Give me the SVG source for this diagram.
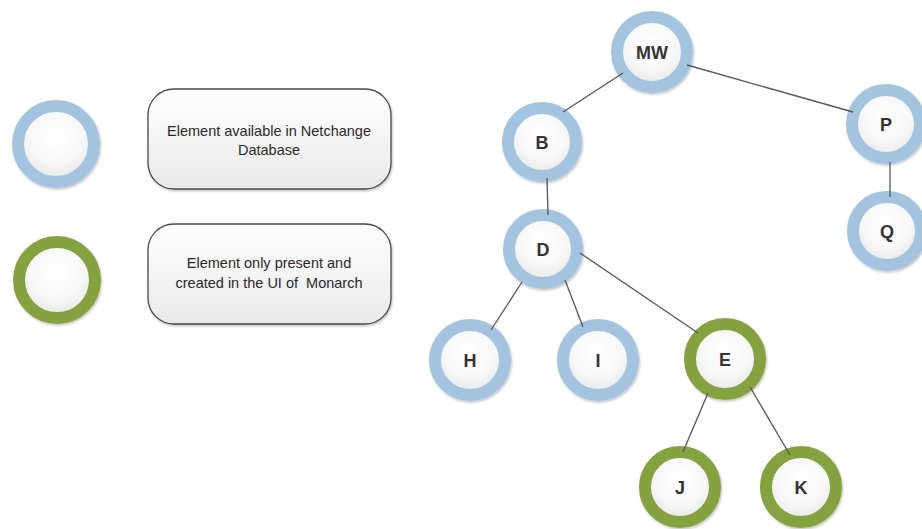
<svg xmlns="http://www.w3.org/2000/svg" width="922" height="529" viewBox="0 0 922 529">
<defs>
<radialGradient id="fillG" cx="50%" cy="40%" r="60%">
<stop offset="0" stop-color="#ffffff"/>
<stop offset="0.6" stop-color="#f7f7f7"/>
<stop offset="1" stop-color="#e4e4e4"/>
</radialGradient>
<linearGradient id="boxG" x1="0" y1="0" x2="0" y2="1">
<stop offset="0" stop-color="#ffffff"/>
<stop offset="1" stop-color="#e9e9e9"/>
</linearGradient>
<filter id="sh" x="-20%" y="-20%" width="140%" height="140%">
<feDropShadow dx="1" dy="1.5" stdDeviation="1.2" flood-color="#000" flood-opacity="0.25"/>
</filter>
</defs>
<style>
.blue{fill:url(#fillG);stroke:#a3c3df;stroke-width:12}
.green{fill:url(#fillG);stroke:#86a23f;stroke-width:12}
.lbl{font-family:"Liberation Sans",Arial,sans-serif;font-size:18px;fill:#333;text-anchor:middle;font-weight:bold}
.box{fill:url(#boxG);stroke:#4a4a4a;stroke-width:1.3}
.btxt{font-family:"Liberation Sans",Arial,sans-serif;font-size:14.5px;fill:#2a2a2a;text-anchor:middle;white-space:pre}
.edge{stroke:#555;stroke-width:1.3;fill:none}
</style>
<rect width="922" height="529" fill="#ffffff"/>

<g id="legend-blue"><circle class="blue" cx="56" cy="144" r="38" filter="url(#sh)"/></g>
<g id="legend-green"><circle class="green" cx="57" cy="280" r="38" filter="url(#sh)"/></g>
<g id="legend-box1">
<rect class="box" x="148" y="89" width="243" height="100" rx="26" filter="url(#sh)"/>
<text class="btxt" x="269" y="136">Element available in Netchange</text>
<text class="btxt" x="269" y="155">Database</text>
</g>
<g id="legend-box2">
<rect class="box" x="148" y="224" width="243" height="100" rx="26" filter="url(#sh)"/>
<text class="btxt" x="269" y="268">Element only present and</text>
<text class="btxt" x="269" y="288" xml:space="preserve">created in the UI of  Monarch</text>
</g>

<g id="node-MW"><circle class="blue" cx="652" cy="52" r="35" filter="url(#sh)"/><text class="lbl" x="652" y="59">MW</text></g>
<g id="node-B"><circle class="blue" cx="542" cy="142" r="34" filter="url(#sh)"/><text class="lbl" x="542" y="149">B</text></g>
<g id="node-P"><circle class="blue" cx="886" cy="124" r="34" filter="url(#sh)"/><text class="lbl" x="886" y="131">P</text></g>
<g id="node-Q"><circle class="blue" cx="887" cy="231" r="34" filter="url(#sh)"/><text class="lbl" x="887" y="238">Q</text></g>
<g id="node-D"><circle class="blue" cx="543" cy="249" r="34" filter="url(#sh)"/><text class="lbl" x="543" y="256">D</text></g>
<g id="node-H"><circle class="blue" cx="470" cy="360" r="35" filter="url(#sh)"/><text class="lbl" x="470" y="367">H</text></g>
<g id="node-I"><circle class="blue" cx="598" cy="360" r="35" filter="url(#sh)"/><text class="lbl" x="598" y="367">I</text></g>
<g id="node-E"><circle class="green" cx="725" cy="359" r="35" filter="url(#sh)"/><text class="lbl" x="725" y="366">E</text></g>
<g id="node-J"><circle class="green" cx="680" cy="487" r="35" filter="url(#sh)"/><text class="lbl" x="680" y="494">J</text></g>
<g id="node-K"><circle class="green" cx="801" cy="487" r="35" filter="url(#sh)"/><text class="lbl" x="801" y="494">K</text></g>

<g id="connectors">
<line class="edge" x1="623" y1="73" x2="563" y2="112"/>
<line class="edge" x1="687" y1="65" x2="853" y2="112"/>
<line class="edge" x1="547" y1="178" x2="548" y2="215"/>
<line class="edge" x1="890" y1="162" x2="890" y2="197"/>
<line class="edge" x1="580" y1="253" x2="698" y2="333"/>
<line class="edge" x1="522" y1="282" x2="491" y2="330"/>
<line class="edge" x1="565" y1="280" x2="583" y2="327"/>
<line class="edge" x1="708" y1="393" x2="683" y2="452"/>
<line class="edge" x1="750" y1="387" x2="790" y2="455"/>
</g>
</svg>
